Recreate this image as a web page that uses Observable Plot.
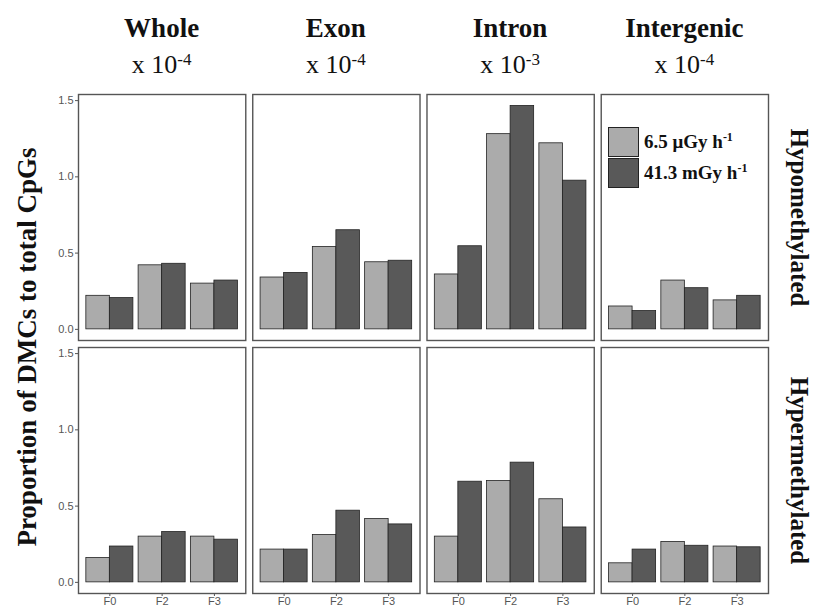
<!DOCTYPE html>
<html>
<head>
<meta charset="utf-8">
<script src="https://cdn.jsdelivr.net/npm/d3@7"></script>
<script src="https://cdn.jsdelivr.net/npm/@observablehq/plot@0.6"></script>
<style>
  html, body { margin: 0; padding: 0; background: #fff; }
  #wrap { position: relative; width: 813px; height: 608px; overflow: hidden; }
  #head { position: relative; height: 88px; }
  .hcol { position: absolute; width: 170px; text-align: center; color: #111; font-family: "Liberation Serif", "Times New Roman", serif; white-space: nowrap; }
  .h1 { top: 14.7px; font-size: 27px; line-height: 27px; font-weight: bold; }
  .h2 { top: 51.5px; font-size: 26px; line-height: 26px; }
  .h2 sup, .leg sup { font-size: 17px; vertical-align: 8px; line-height: 0; }
  #ylab { position: absolute; left: 27px; top: 347px; transform: translate(-50%, -50%) rotate(-90deg); font-family: "Liberation Serif", "Times New Roman", serif; font-weight: bold; font-size: 27px; color: #111; white-space: nowrap; }
  #legend { position: absolute; left: 608px; top: 126px; }
  .leg { display: flex; align-items: center; height: 31.5px; font-family: "Liberation Serif", "Times New Roman", serif; font-weight: bold; font-size: 19px; color: #111; white-space: nowrap; }
  .leg .box { width: 29px; height: 28px; border: 1.3px solid #222; margin-right: 5px; box-sizing: content-box; }
  .leg sup { font-size: 12px; vertical-align: 7px; }
</style>
</head>
<body>
<div id="wrap">
  <div id="head"></div>
  <div id="chart"></div>
  <div id="ylab"></div>
  <div id="legend"></div>
</div>
<script>
// ---- data ----
const regions = ["Whole", "Exon", "Intron", "Intergenic"];
const exponents = ["-4", "-4", "-3", "-4"];
const directions = ["Hypomethylated", "Hypermethylated"];
const generations = ["F0", "F2", "F3"];
const doseLabels = ["6.5 μGy h", "41.3 mGy h"];
const doseExponents = ["-1", "-1"];
const yTicks = [0, 0.5, 1.0, 1.5];
const yLabel = "Proportion of DMCs to total CpGs";

// values per region (Whole, Exon, Intron, Intergenic), per generation (F0, F2, F3)
const hypoLow  = [[0.22, 0.42, 0.30], [0.34, 0.54, 0.44], [0.36, 1.28, 1.22], [0.15, 0.32, 0.19]];
const hypoHigh = [[0.205, 0.43, 0.32], [0.37, 0.65, 0.45], [0.545, 1.465, 0.975], [0.12, 0.27, 0.22]];
const hyperLow  = [[0.16, 0.30, 0.30], [0.215, 0.31, 0.415], [0.30, 0.665, 0.545], [0.125, 0.265, 0.235]];
const hyperHigh = [[0.235, 0.33, 0.28], [0.215, 0.47, 0.38], [0.66, 0.785, 0.36], [0.215, 0.24, 0.23]];

const seriesByDirection = [[hypoLow, hypoHigh], [hyperLow, hyperHigh]];
const doseColors = ["#ababab", "#595959"];

// ---- build table ----
const rows = [];
directions.forEach((dir, di) => {
  seriesByDirection[di].forEach((series, si) => {
    regions.forEach((region, ri) => {
      generations.forEach((gen, gi) => {
        rows.push({dir, region, gen, gi: gi + 1, si, dose: doseLabels[si], value: series[ri][gi]});
      });
    });
  });
});

// dodge (like ggplot position_dodge with width 0.9)
const half = 0.45;
const x1 = d => d.gi + (d.si === 0 ? -half : 0);
const x2 = d => d.gi + (d.si === 0 ? 0 : half);

const sideLabels = directions.map(dir => ({dir, region: regions[regions.length - 1]}));

const chart = Plot.plot({
  width: 813,
  height: 520,
  marginTop: 6,
  marginBottom: 15,
  marginLeft: 78,
  marginRight: 45,
  style: {fontFamily: "'Liberation Sans', Arial, sans-serif", fontSize: "11px", color: "#555", background: "#fff"},
  fx: {domain: regions, paddingInner: 0.04, paddingOuter: 0, round: false, axis: null, label: null},
  fy: {domain: directions, paddingInner: 0.0277, paddingOuter: 0, round: false, axis: null, label: null},
  x: {domain: [0.4, 3.6], ticks: [1, 2, 3], tickFormat: i => generations[i - 1], label: null, tickSize: 3, tickPadding: 1},
  y: {domain: [-0.073, 1.54], ticks: yTicks, tickFormat: d3.format(".1f"), label: null, tickSize: 3, tickPadding: 2},
  color: {domain: doseLabels, range: doseColors},
  marks: [
    Plot.rect(rows, {fx: "region", fy: "dir", x1, x2, y1: () => 0, y2: "value", fill: "dose", stroke: "#222", strokeWidth: 0.8}),
    Plot.frame({stroke: "#555", strokeWidth: 1.4}),
    Plot.text(sideLabels, {fx: "region", fy: "dir", text: "dir", frameAnchor: "right", textAnchor: "middle", lineAnchor: "middle", dx: 30, rotate: 90,
      fontFamily: "'Liberation Serif', 'Times New Roman', serif", fontWeight: "bold", fontSize: 25, fill: "#111"})
  ]
});
document.getElementById("chart").appendChild(chart);

// ---- header (facet titles with multipliers) ----
const head = document.getElementById("head");
const left0 = 78, step = 690 / (4 - 0.04), bw = step * 0.96;
regions.forEach((r, i) => {
  const cx = left0 + i * step + bw / 2;
  const a = document.createElement("div");
  a.className = "hcol h1"; a.style.left = (cx - 85) + "px"; a.textContent = r;
  const b = document.createElement("div");
  b.className = "hcol h2"; b.style.left = (cx - 85) + "px";
  b.innerHTML = "x 10<sup>" + exponents[i] + "</sup>";
  head.appendChild(a); head.appendChild(b);
});

document.getElementById("ylab").textContent = yLabel;

// ---- legend ----
const legend = document.getElementById("legend");
doseLabels.forEach((lab, i) => {
  const row = document.createElement("div");
  row.className = "leg";
  const box = document.createElement("div");
  box.className = "box"; box.style.background = doseColors[i];
  const t = document.createElement("span");
  t.innerHTML = lab + "<sup>" + doseExponents[i] + "</sup>";
  row.appendChild(box); row.appendChild(t);
  legend.appendChild(row);
});
</script>
</body>
</html>
